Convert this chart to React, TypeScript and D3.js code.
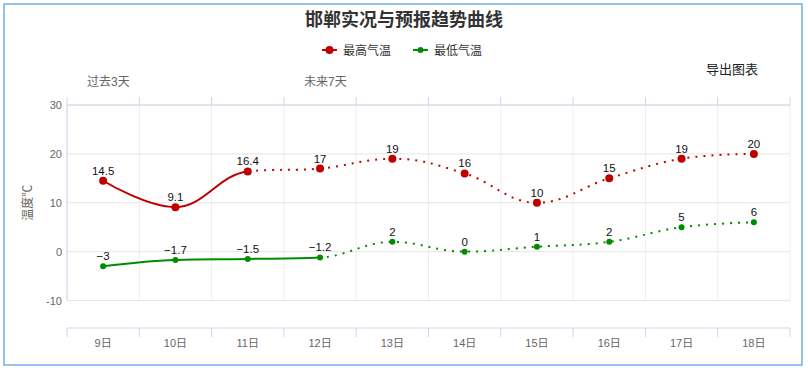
import React from "react";
import * as d3 from "d3";

const categories = ["9日", "10日", "11日", "12日", "13日", "14日", "15日", "16日", "17日", "18日"];
const maxTemps = [14.5, 9.1, 16.4, 17, 19, 16, 10, 15, 19, 20];
const minTemps = [-3, -1.7, -1.5, -1.2, 2, 0, 1, 2, 5, 6];
const yTicks = [-10, 0, 10, 20, 30];
const maxSolidUntil = 2; // index where solid part ends (11日)
const minSolidUntil = 3; // index where solid part ends (12日)
const seriesNames = ["最高气温", "最低气温"];
const titleText = "邯郸实况与预报趋势曲线";

const W = 808;
const H = 368;
const FONT = '"Liberation Sans", "Noto Sans CJK SC", sans-serif';

// Highcharts-like spline curve factory for d3.line
function HCSpline(this: any, context: any) {
  this._context = context;
}
HCSpline.prototype = {
  areaStart() {},
  areaEnd() {},
  lineStart() {
    this._pts = [];
  },
  point(x: number, y: number) {
    this._pts.push([+x, +y]);
  },
  lineEnd() {
    const p: number[][] = this._pts;
    const n = p.length;
    const ctx = this._context;
    if (!n) return;
    ctx.moveTo(p[0][0], p[0][1]);
    const left: (number[] | null)[] = new Array(n).fill(null);
    const right: (number[] | null)[] = new Array(n).fill(null);
    const sm = 1.5;
    const den = sm + 1;
    for (let i = 1; i < n - 1; i++) {
      const [lx, ly] = p[i - 1];
      const [x, y] = p[i];
      const [nx, ny] = p[i + 1];
      const lcx = (sm * x + lx) / den;
      let lcy = (sm * y + ly) / den;
      const rcx = (sm * x + nx) / den;
      let rcy = (sm * y + ny) / den;
      let corr = 0;
      if (rcx !== lcx) corr = ((rcy - lcy) * (rcx - x)) / (rcx - lcx) + y - rcy;
      lcy += corr;
      rcy += corr;
      if (lcy > ly && lcy > y) {
        lcy = Math.max(ly, y);
        rcy = 2 * y - lcy;
      } else if (lcy < ly && lcy < y) {
        lcy = Math.min(ly, y);
        rcy = 2 * y - lcy;
      }
      if (rcy > ny && rcy > y) {
        rcy = Math.max(ny, y);
        lcy = 2 * y - rcy;
      } else if (rcy < ny && rcy < y) {
        rcy = Math.min(ny, y);
        lcy = 2 * y - rcy;
      }
      left[i] = [lcx, lcy];
      right[i] = [rcx, rcy];
    }
    for (let i = 1; i < n; i++) {
      const c1 = right[i - 1] || p[i - 1];
      const c2 = left[i] || p[i];
      ctx.bezierCurveTo(c1[0], c1[1], c2[0], c2[1], p[i][0], p[i][1]);
    }
  },
};
const curveHC: any = (context: any) => new (HCSpline as any)(context);

export default function App() {
  const left = 67;
  const right = 790;
  const top = 105;
  const bottom = 300.5;
  const xAxisY = 328;

  const x = d3.scaleBand<string>().domain(categories).range([left, right]).padding(0);
  const bw = x.bandwidth();
  const cx = (c: string) => (x(c) as number) + bw / 2;
  const y = d3.scaleLinear().domain([-10, 30]).range([bottom, top]);

  const line = d3
    .line<number>()
    .x((_, i) => cx(categories[i]))
    .y((d) => y(d))
    .curve(curveHC);

  const boundaries = categories.map((c) => x(c) as number).concat([right]);
  const fmt = d3.format("");

  const series = [
    { name: seriesNames[0], data: maxTemps, color: "#c00000", r: 4, split: maxSolidUntil, id: "mx" },
    { name: seriesNames[1], data: minTemps, color: "#008c00", r: 3, split: minSolidUntil, id: "mn" },
  ];

  return (
    <svg
      width={W}
      height={H}
      style={{ position: "absolute", left: 0, top: 0, fontFamily: FONT }}
    >
      <rect x={0} y={0} width={W} height={H} fill="#fff" />
      <rect x={4} y={4} width={798} height={361} fill="none" stroke="#76aee6" strokeWidth={1.5} />
      <defs>
        {series.map((s) => {
          const sx = cx(categories[s.split]);
          return (
            <React.Fragment key={s.id}>
              <clipPath id={`${s.id}-solid`}>
                <rect x={0} y={0} width={sx} height={H} />
              </clipPath>
              <clipPath id={`${s.id}-dot`}>
                <rect x={sx} y={0} width={W - sx} height={H} />
              </clipPath>
            </React.Fragment>
          );
        })}
      </defs>

      {/* title */}
      <text x={404} y={26} textAnchor="middle" fontSize={18} fontWeight="bold" fill="#333">
        {titleText}
      </text>

      {/* legend */}
      {series.map((s, i) => {
        const lx = i === 0 ? 322 : 413;
        return (
          <g key={s.id}>
            <line x1={lx} x2={lx + 15} y1={50} y2={50} stroke={s.color} strokeWidth={2} />
            <circle cx={lx + 7.5} cy={50} r={s.r} fill={s.color} />
            <text x={lx + 21} y={54.5} fontSize={12} fill="#333">
              {s.name}
            </text>
          </g>
        );
      })}

      <text x={706} y={73.5} fontSize={13} fill="#222">
        导出图表
      </text>
      <text x={87} y={86} fontSize={12} fill="#666">
        过去3天
      </text>
      <text x={304} y={86} fontSize={12} fill="#666">
        未来7天
      </text>

      {/* vertical gridlines */}
      {boundaries.map((bx, i) => (
        <line key={`vg${i}`} x1={bx} x2={bx} y1={top} y2={bottom} stroke="#eeeeee" strokeWidth={1} />
      ))}
      {/* horizontal gridlines */}
      {yTicks.map((t) => (
        <line key={`hg${t}`} x1={left} x2={right} y1={y(t)} y2={y(t)} stroke="#e6e6e6" strokeWidth={1} />
      ))}
      {/* top axis */}
      <line x1={left} x2={right} y1={top} y2={top} stroke="#ccd6eb" strokeWidth={1} />
      {boundaries.map((bx, i) => (
        <line key={`tt${i}`} x1={bx} x2={bx} y1={97} y2={top} stroke="#ccd6eb" strokeWidth={1} />
      ))}
      {/* y axis line */}
      <line x1={left} x2={left} y1={top} y2={bottom} stroke="#ccd6eb" strokeWidth={1} />
      {yTicks.map((t) => (
        <text key={`yl${t}`} x={62} y={y(t) + 4} textAnchor="end" fontSize={11} fill="#666">
          {String(t)}
        </text>
      ))}
      <text
        transform={`translate(32, ${(top + bottom) / 2}) rotate(-90)`}
        textAnchor="middle"
        fontSize={12}
        fill="#666"
      >
        温度℃
      </text>

      {/* bottom axis */}
      <line x1={left} x2={right} y1={xAxisY} y2={xAxisY} stroke="#ccd6eb" strokeWidth={1} />
      {boundaries.map((bx, i) => (
        <line key={`bt${i}`} x1={bx} x2={bx} y1={xAxisY} y2={xAxisY + 9} stroke="#ccd6eb" strokeWidth={1} />
      ))}
      {categories.map((c) => (
        <text key={`xl${c}`} x={cx(c)} y={347} textAnchor="middle" fontSize={11} fill="#666">
          {c}
        </text>
      ))}

      {/* series */}
      {series.map((s) => {
        const d = line(s.data) || "";
        return (
          <g key={s.id}>
            <path d={d} fill="none" stroke={s.color} strokeWidth={2} clipPath={`url(#${s.id}-solid)`} />
            <path
              d={d}
              fill="none"
              stroke={s.color}
              strokeWidth={2}
              strokeDasharray="2,6"
              clipPath={`url(#${s.id}-dot)`}
            />
            {s.data.map((v, i) => (
              <circle key={i} cx={cx(categories[i])} cy={y(v)} r={s.r} fill={s.color} />
            ))}
            {s.data.map((v, i) => (
              <text
                key={`l${i}`}
                x={cx(categories[i])}
                y={y(v) - 6}
                textAnchor="middle"
                fontSize={11.5}
                fill="#111"
              >
                {fmt(v)}
              </text>
            ))}
          </g>
        );
      })}
    </svg>
  );
}
